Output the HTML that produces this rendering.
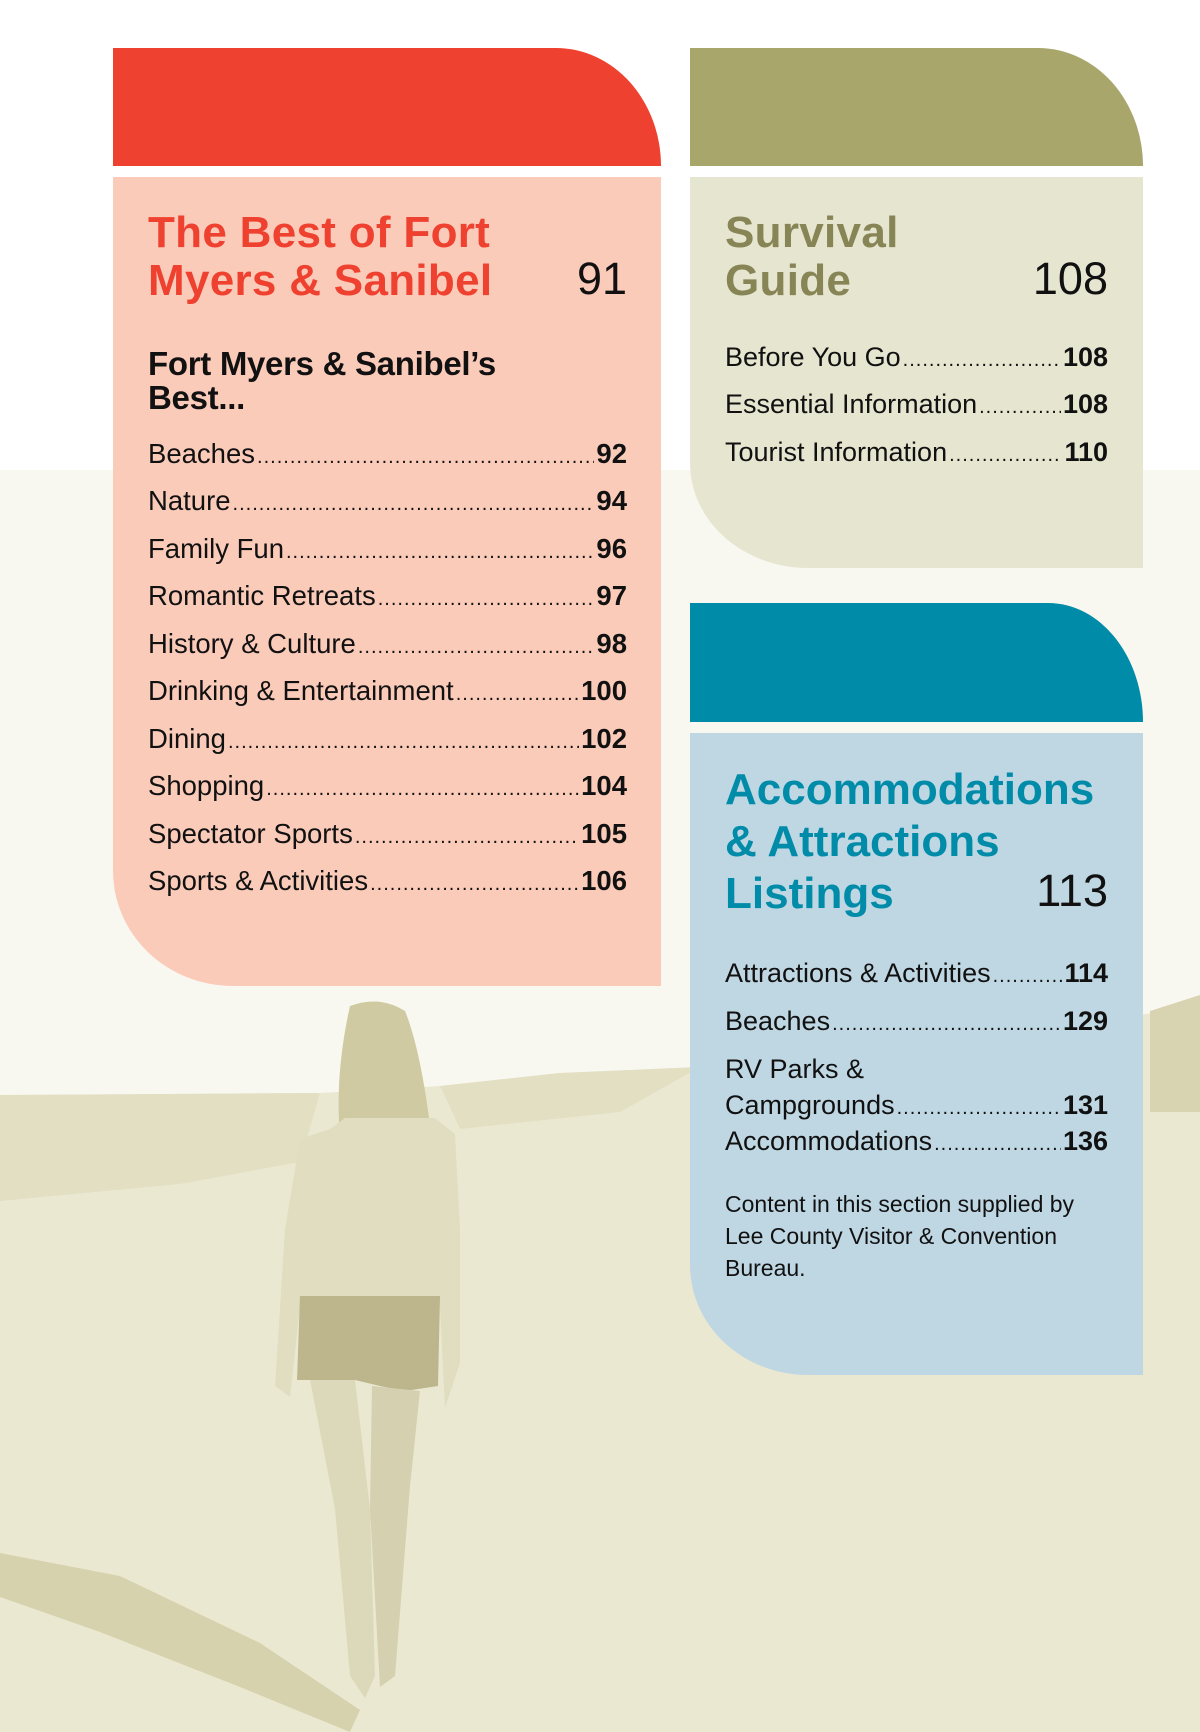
<!DOCTYPE html>
<html><head><meta charset="utf-8"><style>
*{margin:0;padding:0;box-sizing:border-box}
body{width:1200px;height:1732px;position:relative;overflow:hidden;background:#fbfbf7;font-family:"Liberation Sans",sans-serif;color:#111}
.abs{position:absolute}
.t{position:absolute;white-space:nowrap;line-height:1}
.row{position:absolute;display:flex;align-items:baseline;white-space:nowrap;line-height:1}
.row .lead{flex:1;overflow:hidden;margin:0 2px;letter-spacing:1px;font-size:20px}
.row b{font-weight:bold}
.h{font-weight:bold}
</style></head><body>
<svg class="abs" style="left:0;top:0" width="1200" height="1732" viewBox="0 0 1200 1732">
 <rect x="0" y="0" width="1200" height="470" fill="#ffffff"/>
 <rect x="0" y="470" width="1200" height="640" fill="#f8f8f1"/>
 <path d="M0 1095 L320 1093 L440 1086 L560 1073 L700 1067 L900 1051 L1200 1006 L1200 1732 L0 1732 Z" fill="#ebe8d2"/>
 <path d="M0 1095 L320 1093 L300 1162 L180 1184 L0 1201 Z" fill="#e2dfc3"/>
 <path d="M440 1086 L560 1073 L700 1067 L620 1112 L460 1129 Z" fill="#e2dfc3"/>
 <path d="M1150 1011 L1200 995 L1200 1112 L1150 1112 Z" fill="#d8d4b2"/>
 <path d="M0 1553 L120 1576 L260 1643 L360 1710 L350 1732 L240 1687 L100 1632 L0 1597 Z" fill="#d6d2ae"/>
 <g>
  <path d="M350 1006 Q380 995 405 1011 Q425 1061 435 1173 L345 1173 Q330 1095 350 1006 Z" fill="#cfcaa2"/>
  <path d="M330 1129 L345 1118 L435 1118 L455 1134 L460 1229 L460 1363 L445 1408 L440 1307 L300 1307 L290 1397 L275 1386 L285 1229 L300 1139 Z" fill="#e0ddc0"/>
  <path d="M300 1296 L440 1296 L438 1386 L405 1391 L380 1386 L355 1380 L297 1380 Z" fill="#bdb68d"/>
  <path d="M310 1380 L355 1380 L370 1509 L375 1676 L365 1698 L350 1676 L335 1509 Z" fill="#dcd9bb"/>
  <path d="M372 1386 L420 1391 L410 1486 L395 1676 L380 1687 L370 1509 Z" fill="#d4d0b0"/>
 </g>
</svg>

<div class="abs" style="left:113px;top:48px;width:548px;height:118px;background:#ef4130;border-top-right-radius:105px 118px"></div>
<div class="abs" style="left:113px;top:177px;width:548px;height:809px;background:#fbcbba;border-bottom-left-radius:120px 115px"></div>

<div class="abs" style="left:690px;top:48px;width:453px;height:118px;background:#a9a66c;border-top-right-radius:105px 118px"></div>
<div class="abs" style="left:690px;top:177px;width:453px;height:391px;background:#e6e5cf;border-bottom-left-radius:118px 105px"></div>

<div class="abs" style="left:690px;top:603px;width:453px;height:119px;background:#008ba9;border-top-right-radius:95px 119px"></div>
<div class="abs" style="left:690px;top:733px;width:453px;height:642px;background:#bfd7e3;border-bottom-left-radius:118px 110px"></div>

<!-- Left panel -->
<div class="t h" style="left:148px;top:209px;font-size:44px;color:#ef4130;line-height:48px;letter-spacing:0.3px">The Best of Fort<br>Myers &amp; Sanibel</div>
<div class="t" style="left:540px;width:87px;text-align:right;top:256px;font-size:45px">91</div>
<div class="t" style="left:148px;top:347px;font-size:33px;font-weight:bold;line-height:34px;letter-spacing:-0.3px">Fort Myers &amp; Sanibel’s<br>Best...</div>

<div class="row" style="left:148px;width:479px;top:440px;font-size:27.5px"><span>Beaches</span><span class="lead">..............................................................................................</span><b>92</b></div>
<div class="row" style="left:148px;width:479px;top:487px;font-size:27.5px"><span>Nature</span><span class="lead">..............................................................................................</span><b>94</b></div>
<div class="row" style="left:148px;width:479px;top:535px;font-size:27.5px"><span>Family Fun</span><span class="lead">..............................................................................................</span><b>96</b></div>
<div class="row" style="left:148px;width:479px;top:582px;font-size:27.5px"><span>Romantic Retreats</span><span class="lead">..............................................................................................</span><b>97</b></div>
<div class="row" style="left:148px;width:479px;top:630px;font-size:27.5px"><span>History &amp; Culture</span><span class="lead">..............................................................................................</span><b>98</b></div>
<div class="row" style="left:148px;width:479px;top:677px;font-size:27.5px"><span>Drinking &amp; Entertainment</span><span class="lead">..............................................................................................</span><b>100</b></div>
<div class="row" style="left:148px;width:479px;top:725px;font-size:27.5px"><span>Dining</span><span class="lead">..............................................................................................</span><b>102</b></div>
<div class="row" style="left:148px;width:479px;top:772px;font-size:27.5px"><span>Shopping</span><span class="lead">..............................................................................................</span><b>104</b></div>
<div class="row" style="left:148px;width:479px;top:820px;font-size:27.5px"><span>Spectator Sports</span><span class="lead">..............................................................................................</span><b>105</b></div>
<div class="row" style="left:148px;width:479px;top:867px;font-size:27.5px"><span>Sports &amp; Activities</span><span class="lead">..............................................................................................</span><b>106</b></div>

<!-- Survival -->
<div class="t h" style="left:725px;top:209px;font-size:44px;color:#878456;line-height:48px;letter-spacing:0.3px">Survival<br>Guide</div>
<div class="t" style="left:980px;width:128px;text-align:right;top:256px;font-size:45px">108</div>
<div class="row" style="left:725px;width:383px;top:344px;font-size:27px"><span>Before You Go</span><span class="lead">..............................................................................................</span><b>108</b></div>
<div class="row" style="left:725px;width:383px;top:391px;font-size:27px"><span>Essential Information</span><span class="lead">..............................................................................................</span><b>108</b></div>
<div class="row" style="left:725px;width:383px;top:439px;font-size:27px"><span>Tourist Information</span><span class="lead">..............................................................................................</span><b>110</b></div>

<!-- Listings -->
<div class="t h" style="left:725px;top:764px;font-size:44px;color:#008ba9;line-height:52px">Accommodations<br>&amp; Attractions<br>Listings</div>
<div class="t" style="left:980px;width:128px;text-align:right;top:868px;font-size:45px">113</div>
<div class="row" style="left:725px;width:383px;top:960px;font-size:27px"><span>Attractions &amp; Activities</span><span class="lead">..............................................................................................</span><b>114</b></div>
<div class="row" style="left:725px;width:383px;top:1008px;font-size:27px"><span>Beaches</span><span class="lead">..............................................................................................</span><b>129</b></div>
<div class="t" style="left:725px;top:1056px;font-size:27px">RV Parks &amp;</div>
<div class="row" style="left:725px;width:383px;top:1092px;font-size:27px"><span>Campgrounds</span><span class="lead">..............................................................................................</span><b>131</b></div>
<div class="row" style="left:725px;width:383px;top:1128px;font-size:27px"><span>Accommodations</span><span class="lead">..............................................................................................</span><b>136</b></div>
<div class="t" style="left:725px;top:1188px;font-size:23px;line-height:32px">Content in this section supplied by<br>Lee County Visitor &amp; Convention<br>Bureau.</div>
</body></html>
